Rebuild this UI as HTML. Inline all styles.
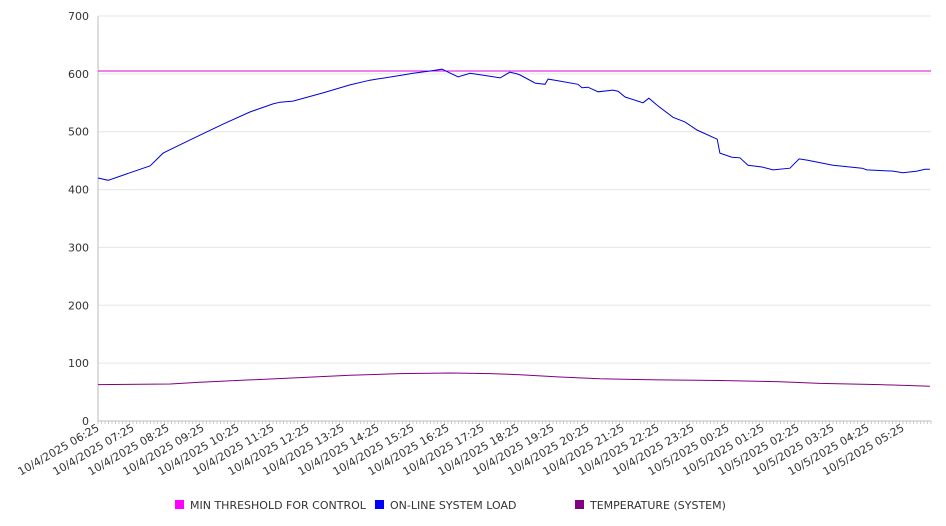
<!DOCTYPE html>
<html><head><meta charset="utf-8"><style>
body{margin:0;background:#fff;}
svg{display:block;font-family:"DejaVu Sans","Liberation Sans",sans-serif;}
</style></head><body>
<svg id="chart" width="946" height="526"></svg>
<script>
const xTickLabels=["10/4/2025 06:25","10/4/2025 07:25","10/4/2025 08:25","10/4/2025 09:25","10/4/2025 10:25","10/4/2025 11:25","10/4/2025 12:25","10/4/2025 13:25","10/4/2025 14:25","10/4/2025 15:25","10/4/2025 16:25","10/4/2025 17:25","10/4/2025 18:25","10/4/2025 19:25","10/4/2025 20:25","10/4/2025 21:25","10/4/2025 22:25","10/4/2025 23:25","10/5/2025 00:25","10/5/2025 01:25","10/5/2025 02:25","10/5/2025 03:25","10/5/2025 04:25","10/5/2025 05:25"];
const yTicks=[0,100,200,300,400,500,600,700];
const thresholdValue=605;
const loadHours=[0,0.29,0.91,1.49,1.86,2.43,2.91,3.57,4.34,5.0,5.2,5.57,6.43,7.2,7.77,8.71,9.0,9.49,9.83,10.0,10.29,10.63,11.2,11.49,11.77,11.97,12.06,12.49,12.77,12.86,13.14,13.71,13.83,14.0,14.29,14.71,14.86,15.06,15.57,15.74,15.97,16.43,16.77,17.11,17.69,17.77,18.11,18.34,18.57,18.97,19.29,19.77,20.03,20.26,21.0,21.83,21.97,22.71,23.0,23.4,23.63,23.77];
const loadValues=[420,416,429,441,463,480,494,513,534,548,551,553,567,581,589,598,601,605,608,603,595,601,596,593,603,600,598,584,582,591,588,582,576,577,569,572,570,560,550,558,546,525,517,503,487,463,456,455,442,439,434,437,453,451,442,437,434,432,429,432,435,435];
const tempHours=[0,2.06,2.91,4.34,5.77,7.2,8.63,10.06,11.2,12.06,13.2,14.34,16.06,17.77,19.49,20.63,22.34,23.77];
const tempValues=[63,64,67,71,75,79,82,83,82,80,76,73,71,70,68,65,63,60];
const X0=98,X1=931,Y0=421,Y1=16,HOURPX=35;
const xs=h=>X0+h*HOURPX;
const ys=v=>Y0-(v/700)*(Y0-Y1);
const NS="http://www.w3.org/2000/svg";
const svg=document.getElementById('chart');
function mk(t,a,p){const e=document.createElementNS(NS,t);for(const k in a)e.setAttribute(k,a[k]);(p||svg).appendChild(e);return e;}
yTicks.forEach(v=>{
  const g=mk('line',{x1:X0,x2:X1,y1:ys(v),y2:ys(v),stroke:v===0?'#bbb':'#e6e6e6','stroke-width':1});
  
  
  const t=mk('text',{x:89,y:ys(v)+4,'text-anchor':'end','font-size':11,fill:'#333'});
  t.textContent=v;
  
  
});
const ax=mk('line',{x1:X0,x2:X0,y1:Y1,y2:Y0,stroke:'#bbb'});


for(let x=X0;x<=X1;x+=3.5){const m=mk('line',{x1:x,x2:x,y1:Y0,y2:Y0+3,stroke:'#ccc'});

}
xTickLabels.forEach((l,i)=>{
  const x=xs(i)+2;
  const t=mk('text',{x:x,y:430,'text-anchor':'end','font-size':11,fill:'#333',transform:`rotate(-30 ${x} 430)`});
  t.textContent=l;
  
  
});
const th=mk('line',{x1:X0,x2:X1,y1:ys(thresholdValue),y2:ys(thresholdValue),stroke:'#e000e0','stroke-width':1});


function path(hs,vs,c,name){
  const d=hs.map((h,i)=>(i?'L':'M')+xs(h).toFixed(1)+' '+ys(vs[i]).toFixed(1)).join(' ');
  const p=mk('path',{d:d,fill:'none',stroke:c,'stroke-width':1});
  
  
}
path(loadHours,loadValues,'#0000dd','online-system-load-line');
path(tempHours,tempValues,'#800080','temperature-line');
const leg=[["MIN THRESHOLD FOR CONTROL","#ff00ff",175],["ON-LINE SYSTEM LOAD","#0000ff",375],["TEMPERATURE (SYSTEM)","#800080",575]];
leg.forEach(([n,c,x])=>{
  const g=mk('g',{});
  
  
  mk('rect',{x:x,y:500,width:9,height:9,fill:c},g);
  const t=mk('text',{x:x+15,y:509,'font-size':11,fill:'#333'},g);
  t.textContent=n;
});
</script>
</body></html>
